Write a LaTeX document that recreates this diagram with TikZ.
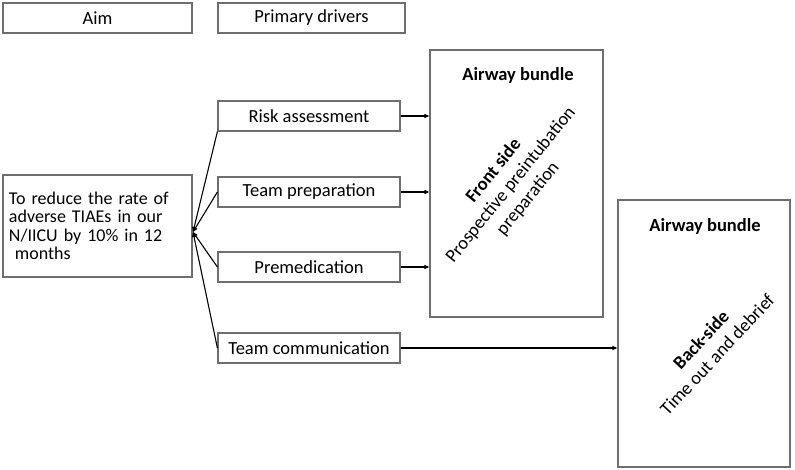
\documentclass[tikz,border=0pt]{standalone}
\usepackage{fontspec}
\setmainfont{Carlito}
\usetikzlibrary{arrows.meta}
\definecolor{boxgray}{RGB}{110,110,110}

\tikzset{
  box/.style={draw=boxgray, line width=1.2pt, rectangle, inner sep=0pt, font=\fontsize{18.5}{18.5}\selectfont},
  headbox/.style={box, minimum width=189pt, minimum height=30pt},
  drvbox/.style={box, minimum width=182pt, minimum height=30pt},
  bundlebox/.style={box, minimum width=173pt, minimum height=267pt},
  link/.style={black, line width=1.1pt},
  tip/.style={link, -{Triangle[length=5pt,width=4pt]}}
}

\begin{document}
\begin{tikzpicture}[x=1pt,y=1pt]
\useasboundingbox (0,0) rectangle (795,470);

% headers
\node[headbox] (aimhead) at (97.5,452) {Aim};
\node[headbox, minimum width=187pt] (drvhead) at (311.5,452) {Primary drivers};

% aim
\node[box, minimum width=189pt, minimum height=102pt, align=left, text width=177pt, font=\fontsize{18}{18.5}\selectfont] (aim) at (97.5,244)
  {To reduce the rate of\\adverse TIAEs in our\\N/IICU by 10\% in 12\\\ months};
\coordinate (hub) at (193,238);

% primary drivers
\node[drvbox] (risk) at (309,354) {Risk assessment};
\node[drvbox] (prep) at (309,278) {Team preparation};
\node[drvbox] (premed) at (309,203) {Premedication};
\node[drvbox] (comm) at (309,122) {Team communication};

% airway bundle, front and back
\node[bundlebox] (front) at (516.5,286.5) {};
\node[bundlebox, minimum width=172pt] (back) at (704,136.5) {};
\node[font=\fontsize{18.5}{18.5}\selectfont\bfseries] (fronttitle) at (518,395) {Airway bundle};
\node[font=\fontsize{18.5}{18.5}\selectfont\bfseries] (backtitle) at (705,244) {Airway bundle};
\node[rotate=51, align=center, font=\fontsize{18.5}{22}\selectfont] (fronttext) at (511,285)
  {\textbf{Front side}\\Prospective preintubation\\preparation};
\node[rotate=47, align=center, font=\fontsize{18.5}{22}\selectfont] (backtext) at (709,123)
  {\textbf{Back-side}\\Time out and debrief};

% drivers to aim
\draw[tip] (risk.south west) -- (hub);
\draw[tip] (prep.west) -- (hub);
\draw[tip] (premed.west) -- (hub);
\draw[tip] (comm.west) -- (hub);

% drivers to bundle
\draw[tip] (risk.east) -- (risk.east -| front.west);
\draw[tip] (prep.east) -- (prep.east -| front.west);
\draw[tip] (premed.east) -- (premed.east -| front.west);
\draw[tip] (comm.east) -- (comm.east -| back.west);
\end{tikzpicture}
\end{document}
